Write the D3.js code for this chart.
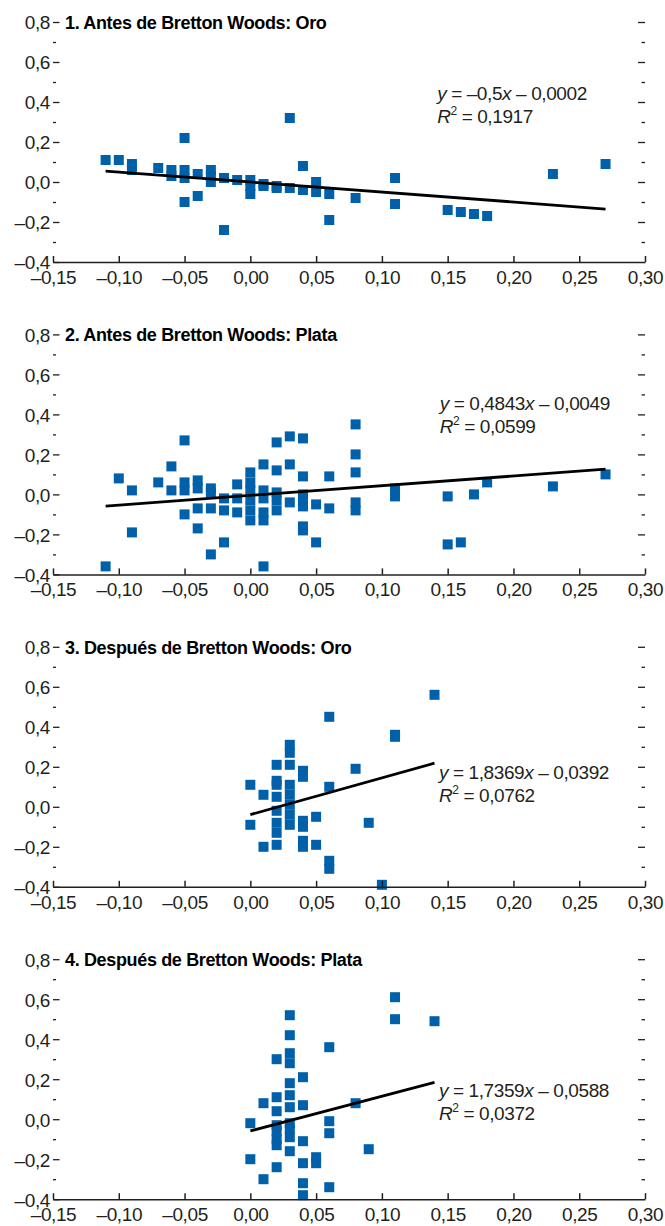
<!DOCTYPE html>
<html>
<head>
<meta charset="utf-8">
<script src="https://cdn.jsdelivr.net/npm/d3@7"></script>
<style>
  html, body { margin: 0; padding: 0; background: #fff; }
  svg { display: block; font-family: "Liberation Sans", Arial, "Helvetica Neue", sans-serif; }
</style>
</head>
<body>
<svg id="chart" width="665" height="1226"></svg>
<script>
// ---- data -------------------------------------------------------------
const panelTitles = [
  "1. Antes de Bretton Woods: Oro",
  "2. Antes de Bretton Woods: Plata",
  "3. Después de Bretton Woods: Oro",
  "4. Después de Bretton Woods: Plata"
];

const xTicks = [-0.15, -0.10, -0.05, 0.00, 0.05, 0.10, 0.15, 0.20, 0.25, 0.30];
const yTicks = [-0.4, -0.2, 0.0, 0.2, 0.4, 0.6, 0.8];
const yMinorTicks = [-0.3, -0.1, 0.1, 0.3, 0.5, 0.7];

// [x, y] pairs
const antesOro = [
  [-0.11, 0.11], [-0.10, 0.11], [-0.09, 0.09], [-0.09, 0.06], [-0.07, 0.07],
  [-0.06, 0.06], [-0.06, 0.03],
  [-0.05, 0.22], [-0.05, 0.06], [-0.05, 0.02], [-0.05, -0.10],
  [-0.04, 0.04], [-0.04, -0.07],
  [-0.03, 0.06], [-0.03, 0.03], [-0.03, 0.00],
  [-0.02, 0.02], [-0.02, -0.24],
  [-0.01, 0.01],
  [0.00, 0.01], [0.00, -0.02], [0.00, -0.06],
  [0.01, -0.01], [0.01, -0.02],
  [0.02, -0.02], [0.02, -0.03],
  [0.03, 0.32], [0.03, -0.03],
  [0.04, 0.08], [0.04, -0.04],
  [0.05, 0.00], [0.05, -0.05],
  [0.06, -0.06], [0.06, -0.19],
  [0.08, -0.08],
  [0.11, 0.02], [0.11, -0.11],
  [0.15, -0.14], [0.16, -0.15], [0.17, -0.16], [0.18, -0.17],
  [0.23, 0.04], [0.27, 0.09]
];

const antesPlata = [
  [-0.11, -0.36], [-0.10, 0.08], [-0.09, 0.02], [-0.09, -0.19], [-0.07, 0.06],
  [-0.06, 0.14], [-0.06, 0.02],
  [-0.05, 0.27], [-0.05, 0.06], [-0.05, 0.02], [-0.05, -0.10],
  [-0.04, 0.07], [-0.04, 0.03], [-0.04, -0.07], [-0.04, -0.17],
  [-0.03, 0.03], [-0.03, 0.01], [-0.03, -0.07], [-0.03, -0.30],
  [-0.02, -0.02], [-0.02, -0.08], [-0.02, -0.24],
  [-0.01, 0.05], [-0.01, -0.02], [-0.01, -0.09],
  [0.00, 0.11], [0.00, 0.06], [0.00, 0.02], [0.00, -0.03], [0.00, -0.08], [0.00, -0.13],
  [0.01, 0.15], [0.01, 0.02], [0.01, -0.02], [0.01, -0.09], [0.01, -0.13], [0.01, -0.36],
  [0.02, 0.26], [0.02, 0.12], [0.02, 0.01], [0.02, -0.03], [0.02, -0.08],
  [0.03, 0.29], [0.03, 0.15], [0.03, -0.04],
  [0.04, 0.28], [0.04, 0.09], [0.04, 0.00], [0.04, -0.03], [0.04, -0.06], [0.04, -0.16], [0.04, -0.18],
  [0.05, -0.05], [0.05, -0.24],
  [0.06, 0.09], [0.06, -0.07],
  [0.08, 0.35], [0.08, 0.20], [0.08, 0.11], [0.08, -0.04], [0.08, -0.08],
  [0.11, 0.03], [0.11, -0.01],
  [0.15, -0.01], [0.15, -0.25], [0.16, -0.24],
  [0.17, 0.00], [0.18, 0.06], [0.23, 0.04], [0.27, 0.10]
];

const despuesOro = [
  [0.00, 0.11], [0.00, -0.09],
  [0.01, 0.06], [0.01, -0.20],
  [0.02, 0.21], [0.02, 0.13], [0.02, 0.11], [0.02, 0.05], [0.02, -0.02],
  [0.02, -0.08], [0.02, -0.13], [0.02, -0.19],
  [0.03, 0.31], [0.03, 0.27], [0.03, 0.21], [0.03, 0.11], [0.03, 0.06],
  [0.03, 0.01], [0.03, -0.04], [0.03, -0.09],
  [0.04, 0.18], [0.04, 0.15], [0.04, -0.07], [0.04, -0.10], [0.04, -0.17], [0.04, -0.20],
  [0.05, -0.05], [0.05, -0.19],
  [0.06, 0.45], [0.06, 0.10], [0.06, -0.27], [0.06, -0.31],
  [0.08, 0.19], [0.09, -0.08], [0.10, -0.39],
  [0.11, 0.36], [0.11, 0.35],
  [0.14, 0.56]
];

const despuesPlata = [
  [0.00, -0.02], [0.00, -0.20],
  [0.01, 0.08], [0.01, -0.30],
  [0.02, 0.30], [0.02, 0.11], [0.02, 0.04], [0.02, -0.03], [0.02, -0.06],
  [0.02, -0.10], [0.02, -0.13], [0.02, -0.24],
  [0.03, 0.52], [0.03, 0.42], [0.03, 0.33], [0.03, 0.28], [0.03, 0.18], [0.03, 0.12],
  [0.03, 0.06], [0.03, -0.02], [0.03, -0.05], [0.03, -0.09], [0.03, -0.16],
  [0.04, 0.21], [0.04, 0.07], [0.04, -0.11], [0.04, -0.22], [0.04, -0.32], [0.04, -0.38],
  [0.05, -0.19], [0.05, -0.22],
  [0.06, 0.36], [0.06, -0.01], [0.06, -0.07], [0.06, -0.34],
  [0.08, 0.08], [0.09, -0.15],
  [0.11, 0.61], [0.11, 0.50],
  [0.14, 0.49]
];

// fitted lines: slope, intercept, R²
const slopes = [-0.5, 0.4843, 1.8369, 1.7359];
const intercepts = [-0.0002, -0.0049, -0.0392, -0.0588];
const rSquared = [0.1917, 0.0599, 0.0762, 0.0372];

const series = [antesOro, antesPlata, despuesOro, despuesPlata];

// ---- layout -----------------------------------------------------------
const plotLeft = 53, plotRight = 645;
const plotHeight = 240, firstTop = 22, panelStep = 312.4;
const equationAnchor = [[0.142, 0.41], [0.144, 0.42], [0.1434, 0.14], [0.1434, 0.11]];
const BLUE = "#0060A9";
const INK = "#231F20";
const FONT_SIZE = 19;

const svg = d3.select("#chart");
const x = d3.scaleLinear().domain([-0.15, 0.30]).range([plotLeft, plotRight]);

const dash = "\u2013";
const fmtNum = (v, digits) => {
  const s = Math.abs(v).toFixed(digits).replace(".", ",");
  return (v < -1e-9 ? dash : "") + s;
};
const rawNum = v => String(Math.abs(v)).replace(".", ",");

series.forEach((data, i) => {
  const top = firstTop + i * panelStep;
  const y = d3.scaleLinear().domain([-0.4, 0.8]).range([top + plotHeight, top]);
  const g = svg.append("g").attr("class", "panel");

  // scatter points
  g.append("g").selectAll("rect")
    .data(data)
    .join("rect")
    .attr("x", d => x(d[0]) - 5)
    .attr("y", d => y(d[1]) - 5)
    .attr("width", 10)
    .attr("height", 10)
    .attr("fill", BLUE);

  // trend line over the range of observed x
  const [x0, x1] = d3.extent(data, d => d[0]);
  const fit = v => slopes[i] * v + intercepts[i];
  g.append("line")
    .attr("x1", x(x0)).attr("y1", y(fit(x0)))
    .attr("x2", x(x1)).attr("y2", y(fit(x1)))
    .attr("stroke", "#000")
    .attr("stroke-width", 2.8)
    .attr("stroke-linecap", "butt");

  // bottom axis with ticks pointing up
  const xAxisG = g.append("g")
    .attr("transform", `translate(0,${y(-0.4)})`)
    .call(d3.axisBottom(x)
      .tickValues(xTicks)
      .tickSizeInner(-6)
      .tickSizeOuter(0)
      .tickPadding(8.5)
      .tickFormat(d => fmtNum(d, 2)));
  xAxisG.attr("font-size", FONT_SIZE).attr("font-family", null).attr("color", INK);
  xAxisG.selectAll("line, path").attr("stroke-width", 1.5);
  xAxisG.selectAll("text").attr("letter-spacing", -0.4);

  // left axis: labelled major ticks and short minor ticks, no spine
  const yAxisG = g.append("g")
    .attr("transform", `translate(${plotLeft},0)`)
    .call(d3.axisLeft(y)
      .tickValues(yTicks)
      .tickSizeInner(-6.5)
      .tickSizeOuter(0)
      .tickPadding(3)
      .tickFormat(d => fmtNum(d, 1)));
  yAxisG.select(".domain").remove();
  yAxisG.attr("font-size", FONT_SIZE).attr("font-family", null).attr("color", INK);
  yAxisG.selectAll("line").attr("stroke-width", 1.3);
  yAxisG.selectAll("text").attr("letter-spacing", -0.4).attr("dy", "0.36em");

  const yMinorG = g.append("g")
    .attr("transform", `translate(${plotLeft},0)`)
    .call(d3.axisLeft(y).tickValues(yMinorTicks).tickSizeInner(-3).tickSizeOuter(0).tickFormat(""));
  yMinorG.select(".domain").remove();
  yMinorG.attr("color", INK).selectAll("line").attr("stroke-width", 1.3);

  // right axis: ticks only
  const yRightG = g.append("g")
    .attr("transform", `translate(${plotRight},0)`)
    .call(d3.axisRight(y).tickValues(yTicks.filter(v => v > -0.4)).tickSizeInner(-7).tickSizeOuter(0).tickFormat(""));
  yRightG.select(".domain").remove();
  yRightG.attr("color", INK).selectAll("line").attr("stroke-width", 1.3);

  const yRightMinorG = g.append("g")
    .attr("transform", `translate(${plotRight},0)`)
    .call(d3.axisRight(y).tickValues(yMinorTicks).tickSizeInner(-3.5).tickSizeOuter(0).tickFormat(""));
  yRightMinorG.select(".domain").remove();
  yRightMinorG.attr("color", INK).selectAll("line").attr("stroke-width", 1.3);

  // panel title
  g.append("text")
    .attr("x", 65)
    .attr("y", top + 7)
    .attr("font-size", 18)
    .attr("font-weight", "bold")
    .attr("letter-spacing", -0.35)
    .attr("fill", "#000")
    .text(panelTitles[i]);

  // regression equation and R²
  const [ex, ey] = equationAnchor[i];
  const eq = g.append("text")
    .attr("x", x(ex))
    .attr("y", y(ey))
    .attr("font-size", FONT_SIZE)
    .attr("letter-spacing", -0.4)
    .attr("fill", INK);
  eq.append("tspan").attr("font-style", "italic").text("y");
  eq.append("tspan").text(" = " + fmtNum(slopes[i], String(Math.abs(slopes[i])).split(".")[1].length));
  eq.append("tspan").attr("font-style", "italic").text("x");
  eq.append("tspan").text(" " + (intercepts[i] < 0 ? dash : "+") + " " + rawNum(intercepts[i]));

  const r2 = g.append("text")
    .attr("x", x(ex))
    .attr("y", y(ey) + 23)
    .attr("font-size", FONT_SIZE)
    .attr("letter-spacing", -0.4)
    .attr("fill", INK);
  r2.append("tspan").attr("font-style", "italic").text("R");
  r2.append("tspan").attr("font-size", 12).attr("dy", -8).text("2");
  r2.append("tspan").attr("dy", 8).text(" = " + rawNum(rSquared[i]));
});
</script>
</body>
</html>
